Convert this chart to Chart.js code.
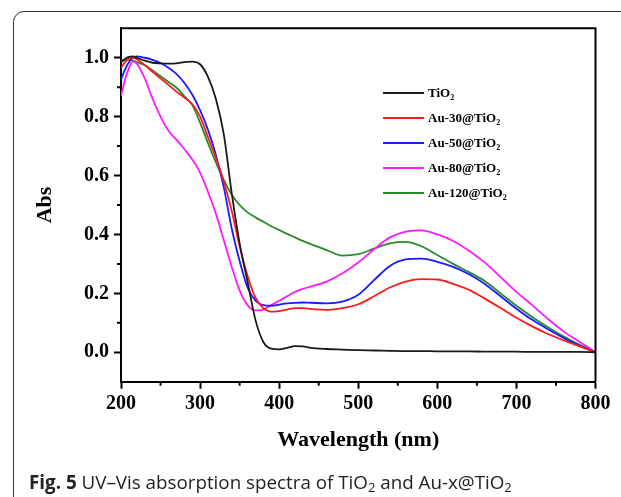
<!DOCTYPE html>
<html>
<head>
<meta charset="utf-8">
<script src="https://cdn.jsdelivr.net/npm/chart.js@4"></script>
<style>
  html, body { margin: 0; padding: 0; background: #fff; overflow: hidden; }
  #wrap { position: relative; width: 621px; height: 497px; }
  #frame { position: absolute; left: 13px; top: 11px; width: 700px; height: 600px;
           border: 1.5px solid #333; border-radius: 11px; }
  #chart { position: absolute; left: 0; top: 0; }
  #caption { position: absolute; left: 29px; top: 469px; font-family: "Open Sans"; font-size: 18.8px;
             color: #222; white-space: nowrap; }
  #caption b { font-weight: 700; }
  #caption sub { font-size: 13px; vertical-align: -3px; }
</style>
</head>
<body>
<div id="wrap">
  <div id="frame"></div>
  <canvas id="chart" width="621" height="497"></canvas>
  <div id="caption"><b>Fig. 5</b> UV–Vis absorption spectra of TiO<sub>2</sub> and Au-x@TiO<sub>2</sub></div>
</div>
<script>
// wavelength grid (nm)
const wavelength = [200, 205, 210, 215, 220, 230, 240, 250, 260, 270, 280, 290, 300, 310, 320, 330, 340, 350, 360, 370,
    380, 390, 400, 410, 420, 430, 440, 460, 480, 500, 520, 540, 560, 580, 600, 620, 640, 660, 680, 700,
    720, 740, 760, 780, 800];

const seriesNames = ["TiO₂", "Au-30@TiO₂", "Au-50@TiO₂", "Au-80@TiO₂", "Au-120@TiO₂"];
const seriesColors = ["#1a1a1a", "#ff1a1a", "#1a1aff", "#ff1aff", "#2a8a2a"];

const absTiO2 = [0.985, 0.996, 1.003, 1.005, 1.0, 0.99, 0.983, 0.981, 0.98, 0.981, 0.985, 0.987, 0.978, 0.935, 0.86, 0.74, 0.54, 0.37, 0.24, 0.11,
    0.035, 0.012, 0.01, 0.015, 0.021, 0.02, 0.015, 0.011, 0.009, 0.007, 0.006, 0.005, 0.004, 0.004, 0.003, 0.003, 0.003, 0.002, 0.002, 0.002,
    0.001, 0.001, 0.001, 0.001, 0.0];
const absAu30 = [0.965, 0.985, 0.997, 1.0, 0.995, 0.975, 0.952, 0.93, 0.908, 0.885, 0.865, 0.843, 0.8, 0.73, 0.66, 0.58, 0.48, 0.36, 0.26, 0.185,
    0.15, 0.138, 0.14, 0.145, 0.15, 0.15, 0.147, 0.144, 0.15, 0.163, 0.19, 0.22, 0.24, 0.248, 0.247, 0.232, 0.212, 0.182, 0.15, 0.117,
    0.088, 0.062, 0.04, 0.02, 0.0];
const absAu50 = [0.925, 0.96, 0.985, 1.0, 1.005, 1.0, 0.993, 0.982, 0.966, 0.945, 0.915, 0.875, 0.822, 0.755, 0.67, 0.56, 0.42, 0.31, 0.22, 0.175,
    0.16, 0.158, 0.162, 0.166, 0.168, 0.169, 0.168, 0.166, 0.172, 0.195, 0.245, 0.293, 0.315, 0.318, 0.307, 0.29, 0.265, 0.232, 0.19, 0.148,
    0.11, 0.078, 0.048, 0.022, 0.0];
const absAu80 = [0.87, 0.925, 0.965, 0.988, 0.98, 0.93, 0.86, 0.8, 0.752, 0.722, 0.69, 0.655, 0.61, 0.545, 0.47, 0.38, 0.29, 0.21, 0.16, 0.142,
    0.145, 0.16, 0.175, 0.19, 0.205, 0.215, 0.223, 0.24, 0.268, 0.305, 0.35, 0.39, 0.41, 0.414, 0.4, 0.378, 0.345, 0.305, 0.255, 0.205,
    0.16, 0.113, 0.07, 0.035, 0.0];
const absAu120 = [0.99, 0.992, 0.993, 0.99, 0.985, 0.975, 0.957, 0.937, 0.918, 0.899, 0.87, 0.84, 0.78, 0.71, 0.645, 0.585, 0.535, 0.5, 0.475, 0.458,
    0.443, 0.428, 0.415, 0.402, 0.39, 0.378, 0.367, 0.347, 0.328, 0.333, 0.352, 0.37, 0.375, 0.36, 0.33, 0.3, 0.272, 0.242, 0.2, 0.158,
    0.12, 0.085, 0.053, 0.025, 0.0];

const allSeries = [absTiO2, absAu30, absAu50, absAu80, absAu120];

const xTicks = [200, 300, 400, 500, 600, 700, 800];
const xMinorTicks = [250, 350, 450, 550, 650, 750];
const yTicks = [0.0, 0.2, 0.4, 0.6, 0.8, 1.0];
const yMinorTicks = [0.1, 0.3, 0.5, 0.7, 0.9];

const serif = "'Liberation Serif', 'Times New Roman', serif";

// frame, minor ticks and the in-plot legend
const decorPlugin = {
    id: "decor",
    afterDatasetsDraw(chart) {
        const ctx = chart.ctx;
        const a = chart.chartArea;
        const xs = chart.scales.x, ys = chart.scales.y;
        ctx.save();
        ctx.strokeStyle = "#000";
        ctx.lineWidth = 2;
        ctx.beginPath();
        ctx.moveTo(a.left, a.top); ctx.lineTo(a.right, a.top); ctx.lineTo(a.right, a.bottom);
        xMinorTicks.forEach(v => {
            const px = xs.getPixelForValue(v);
            ctx.moveTo(px, a.bottom); ctx.lineTo(px, a.bottom + 4);
        });
        yMinorTicks.forEach(v => {
            const py = ys.getPixelForValue(v);
            ctx.moveTo(a.left, py); ctx.lineTo(a.left - 4, py);
        });
        ctx.stroke();

        // legend
        chart.data.datasets.forEach((ds, i) => {
            const y = 93 + i * 25;
            ctx.strokeStyle = ds.borderColor;
            ctx.lineWidth = 2;
            ctx.beginPath();
            ctx.moveTo(383, y); ctx.lineTo(424, y);
            ctx.stroke();
            const parts = ds.label.split("₂");
            ctx.fillStyle = "#000";
            ctx.textBaseline = "middle";
            ctx.font = "bold 13px " + serif;
            ctx.fillText(parts[0], 428, y + 1);
            const w = ctx.measureText(parts[0]).width;
            ctx.font = "bold 8px " + serif;
            ctx.fillText("2", 428 + w, y + 5);
        });
        ctx.restore();
    }
};

new Chart(document.getElementById("chart").getContext("2d"), {
    type: "line",
    data: {
        datasets: allSeries.map((vals, i) => ({
            label: seriesNames[i],
            data: vals.map((v, j) => ({ x: wavelength[j], y: v })),
            borderColor: seriesColors[i],
            backgroundColor: seriesColors[i],
            borderWidth: 1.8,
            pointRadius: 0,
            cubicInterpolationMode: "monotone",
            fill: false
        }))
    },
    options: {
        responsive: false,
        animation: false,
        layout: { padding: { left: 0, right: 25.5, top: 28.3, bottom: 0 } },
        plugins: { legend: { display: false }, tooltip: { enabled: false } },
        scales: {
            x: {
                type: "linear",
                min: 200, max: 800,
                afterBuildTicks: s => { s.ticks = xTicks.map(v => ({ value: v })); },
                afterFit: s => { s.height = 115.3; },
                grid: { drawOnChartArea: false, tickLength: 7, tickWidth: 2, tickColor: "#000" },
                border: { color: "#000", width: 2 },
                ticks: { color: "#000", font: { family: serif, size: 20, weight: "bold" }, padding: 3, maxRotation: 0 },
                title: { display: true, text: "Wavelength (nm)", color: "#000",
                         font: { family: serif, size: 22, weight: "bold" }, padding: { top: 0, bottom: 43.8 } }
            },
            y: {
                min: -0.1, max: 1.1,
                afterBuildTicks: s => { s.ticks = yTicks.map(v => ({ value: v })); },
                afterFit: s => { s.width = 121; },
                grid: { drawOnChartArea: false, tickLength: 7, tickWidth: 2, tickColor: "#000" },
                border: { color: "#000", width: 2 },
                ticks: { color: "#000", font: { family: serif, size: 20, weight: "bold" }, padding: 5,
                         callback: v => v.toFixed(1) },
                title: { display: true, text: "Abs", color: "#000",
                         font: { family: serif, size: 22, weight: "bold" }, padding: { top: 32, bottom: 0 } }
            }
        }
    },
    plugins: [decorPlugin]
});
</script>
</body>
</html>
